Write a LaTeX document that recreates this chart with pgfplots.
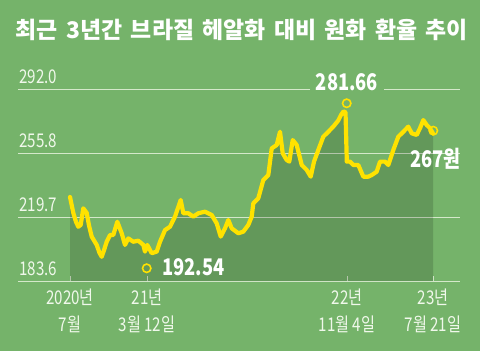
\documentclass[border=0pt]{standalone}
\usepackage{pgfplots}
\pgfplotsset{compat=1.18}
\usepackage{pgfplotstable}
\usepackage{fontspec}
\setmainfont{Noto Sans CJK KR}
\newfontfamily\cond{Noto Sans CJK KR}[FakeStretch=0.8]
\newfontfamily\titlefont{Noto Sans CJK KR}[WordSpace=1.6]
\definecolor{bg}{RGB}{117,179,106}
\definecolor{yel}{RGB}{255,226,0}
\definecolor{gridc}{RGB}{212,232,202}
\definecolor{txt}{RGB}{240,248,235}
\pgfplotstableread{
x y
70 231.1
73.3 222.1
76 217
78.3 214.3
80.7 215.3
83.3 224.7
86.7 222.1
89 215
91.7 208.7
96.7 204.0
99.5 199.5
101.7 197.3
104 201
106.7 205.8
110 209.6
113.3 209.6
117.3 217.1
121.7 210.6
125 204.0
128.3 207.7
133.3 205.8
138.3 206.4
143.3 204.0
145 200.2
147.3 204.0
151.7 199.3
156.7 200.2
160 205.8
165 212.4
170 214.3
175 220.0
180.7 229.4
183.3 221.9
188.3 221.9
193.3 220.0
198.3 221.9
205 222.8
211.7 220.9
216.7 216.2
220.7 208.7
225 213.4
228.3 218.1
231.7 213.4
238.3 210.6
243.3 211.5
248.3 215.3
251.7 220.0
253.3 227.5
258.3 230.4
263.3 240.7
268.3 243.5
271.7 258.6
276.7 260.5
280 268.0
282.7 255.8
286.7 252.0
289.3 251.1
292.7 263.3
296.7 260.5
301.7 249.2
306.7 246.4
310.7 242.6
314 251.1
318.3 257.7
323.3 265.2
328.3 268.0
333.3 270.9
338.3 274.4
341 277.5
343.5 279.5
345.5 279.0
346.8 251.1
350 251.1
353.3 249.2
358.3 249.2
363.3 242.6
368.3 242.6
371.7 243.5
376.7 245.4
380 251.1
385 251.1
388.3 249.2
393.3 257.7
398.3 265.2
403.3 268.0
408.3 270.9
411.7 267.1
416.7 266.2
420 270.0
423.3 274.6
426.7 271.8
430 270.0
433 267.0
}\rate
\begin{document}
\begin{tikzpicture}[x=1bp,y=1bp]
\useasboundingbox (0,0) rectangle (480,351);
\fill[bg] (0,0) rectangle (480,351);
\node[font=\titlefont\bfseries\fontsize{23}{26}\selectfont, text=white, inner sep=0pt] at (242,321) {최근 3년간 브라질 헤알화 대비 원화 환율 추이};
\begin{axis}[
  at={(18bp,70bp)}, anchor=south west,
  scale only axis, width=442bp, height=191.7bp,
  xmin=18, xmax=460, ymin=183.6, ymax=292,
  axis x line*=bottom, axis y line*=left,
  x axis line style={-, draw=gridc, line width=0.8bp},
  y axis line style={draw=none},
  ytick={183.6,219.7,255.8,292},
  yticklabels={183.6,219.7,255.8,292.0},
  ymajorgrids, grid style={draw=gridc, line width=0.8bp},
  ytick style={draw=none},
  yticklabel style={anchor=base west, inner sep=0pt, xshift=1bp, yshift=6bp,
    font=\cond\fontsize{19}{22}\selectfont, text=txt},
  xtick={70,147,347,433},
  xticklabels={{2020년\\7월},{21년\\3월 12일},{22년\\11월 4일},{23년\\7월 21일}},
  xticklabel style={align=center, anchor=north, inner sep=0pt, yshift=-8bp,
    font=\cond\fontsize{19}{27}\selectfont, text=txt},
  tick align=inside, major tick length=5bp,
  x tick style={draw=gridc, line width=0.8bp},
]
\addplot[draw=none, fill=black, fill opacity=0.15] table[x=x,y=y] {\rate} \closedcycle;
\addplot[yel, line width=4.2bp, line join=round, line cap=round] table[x=x,y=y] {\rate};
\addplot[only marks, mark=o, mark size=4.2bp, yel, mark options={line width=1.6bp}] coordinates {(146.7,190.8) (346.7,284.1) (433.3,268.6)};
\end{axis}
\node[font=\cond\bfseries\fontsize{23}{26}\selectfont, text=white, fill=bg, inner xsep=6bp, inner ysep=1bp, anchor=base] at (347,260.3) {281.66};
\node[font=\cond\bfseries\fontsize{23}{26}\selectfont, text=white, inner sep=0pt, anchor=base west] at (162,76) {192.54};
\node[font=\cond\bfseries\fontsize{23}{26}\selectfont, text=white, inner sep=0pt, anchor=base west] at (410,183.7) {267원};
\end{tikzpicture}
\end{document}
